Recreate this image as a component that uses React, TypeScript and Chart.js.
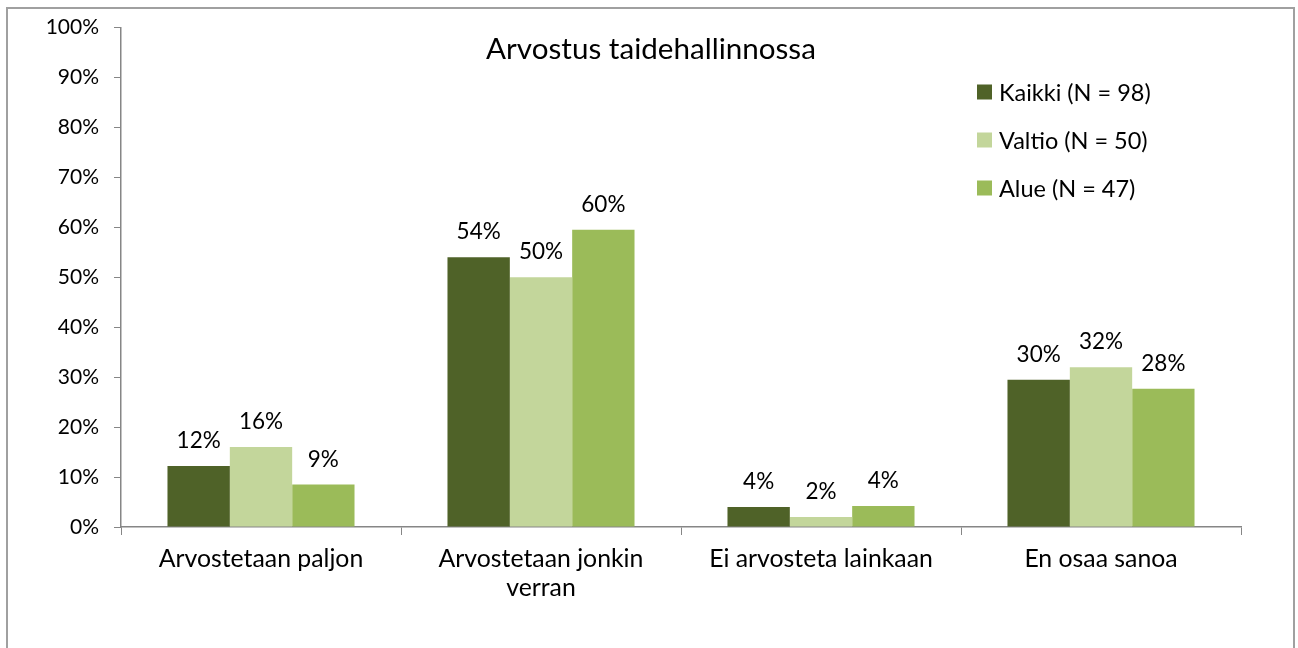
import React, { useEffect, useRef } from "react";
import { Chart, registerables } from "chart.js";

Chart.register(...registerables);

const categories: (string | string[])[] = [
  "Arvostetaan paljon",
  ["Arvostetaan jonkin", "verran"],
  "Ei arvosteta lainkaan",
  "En osaa sanoa",
];
const seriesNames = ["Kaikki (N = 98)", "Valtio (N = 50)", "Alue (N = 47)"];
const kaikki = [12.2, 54.0, 4.0, 29.5];
const valtio = [16.0, 50.0, 2.0, 32.0];
const alue = [8.5, 59.5, 4.2, 27.7];
const yTicks = [0, 10, 20, 30, 40, 50, 60, 70, 80, 90, 100];
const titleText = "Arvostus taidehallinnossa";
const colors = ["#4F6228", "#C3D69B", "#9BBB59"];

const FONT = "Lato, 'Open Sans', sans-serif";

const overlayPlugin = {
  id: "overlay",
  afterDatasetsDraw(chart: any) {
    const ctx = chart.ctx;
    ctx.save();
    // data labels
    ctx.fillStyle = "#000";
    ctx.font = `22.5px ${FONT}`;
    ctx.textAlign = "center";
    ctx.textBaseline = "alphabetic";
    chart.data.datasets.forEach((ds: any, i: number) => {
      const meta = chart.getDatasetMeta(i);
      meta.data.forEach((bar: any, j: number) => {
        const v = ds.data[j];
        ctx.fillText(Math.round(v) + "%", bar.x, bar.y - 18);
      });
    });
    // title
    ctx.font = `29.6px ${FONT}`;
    ctx.fillText(titleText, 651, 59);
    // legend
    ctx.font = `23.5px ${FONT}`;
    ctx.textAlign = "left";
    ctx.textBaseline = "middle";
    chart.data.datasets.forEach((ds: any, i: number) => {
      const cy = 92 + i * 48;
      ctx.fillStyle = ds.backgroundColor;
      ctx.fillRect(977, cy - 7.5, 15, 15);
      ctx.fillStyle = "#000";
      ctx.fillText(ds.label, 999, cy + 1);
    });
    ctx.restore();
  },
};

export default function App() {
  const ref = useRef<HTMLCanvasElement | null>(null);
  useEffect(() => {
    if (!ref.current) return;
    const chart = new Chart(ref.current, {
      type: "bar",
      data: {
        labels: categories as any,
        datasets: [kaikki, valtio, alue].map((d, i) => ({
          label: seriesNames[i],
          data: d,
          backgroundColor: colors[i],
          borderWidth: 0,
          categoryPercentage: 0.668,
          barPercentage: 1.0,
        })),
      },
      options: {
        responsive: false,
        animation: false,
        devicePixelRatio: 1,
        layout: { padding: { left: 0, top: 26, right: 57, bottom: 0 } },
        plugins: {
          legend: { display: false },
          title: { display: false },
          tooltip: { enabled: false },
        },
        scales: {
          x: {
            grid: {
              display: true,
              drawOnChartArea: false,
              drawTicks: true,
              tickLength: 8,
              color: "#868686",
              offset: true,
            },
            border: { display: true, color: "#868686", width: 1.5 },
            ticks: {
              color: "#000",
              font: { family: FONT, size: 24.8, lineHeight: 1.16 },
              padding: 10,
              maxRotation: 0,
              autoSkip: false,
            },
            afterFit: (s: any) => {
              s.height = 648 - 527;
            },
          },
          y: {
            min: 0,
            max: 100,
            afterBuildTicks: (s: any) => {
              s.ticks = yTicks.map((v) => ({ value: v }));
            },
            grid: {
              display: true,
              drawOnChartArea: false,
              drawTicks: true,
              tickLength: 7,
              color: "#868686",
            },
            border: { display: true, color: "#868686", width: 1.5 },
            ticks: {
              color: "#000",
              font: { family: FONT, size: 21 },
              padding: 15,
              callback: (v: any) => v + "%",
            },
            afterFit: (s: any) => {
              s.width = 121;
            },
          },
        },
      },
      plugins: [overlayPlugin],
    });
    return () => chart.destroy();
  }, []);
  return (
    <>
      <canvas
        ref={ref}
        width={1298}
        height={648}
        style={{ position: "fixed", left: 0, top: 0, width: 1298, height: 648 }}
      />
      <div
        style={{
          position: "fixed",
          left: 6,
          top: 7,
          width: 1285,
          height: 700,
          border: "2px solid #a0a0a0",
          pointerEvents: "none",
        }}
      />
    </>
  );
}
